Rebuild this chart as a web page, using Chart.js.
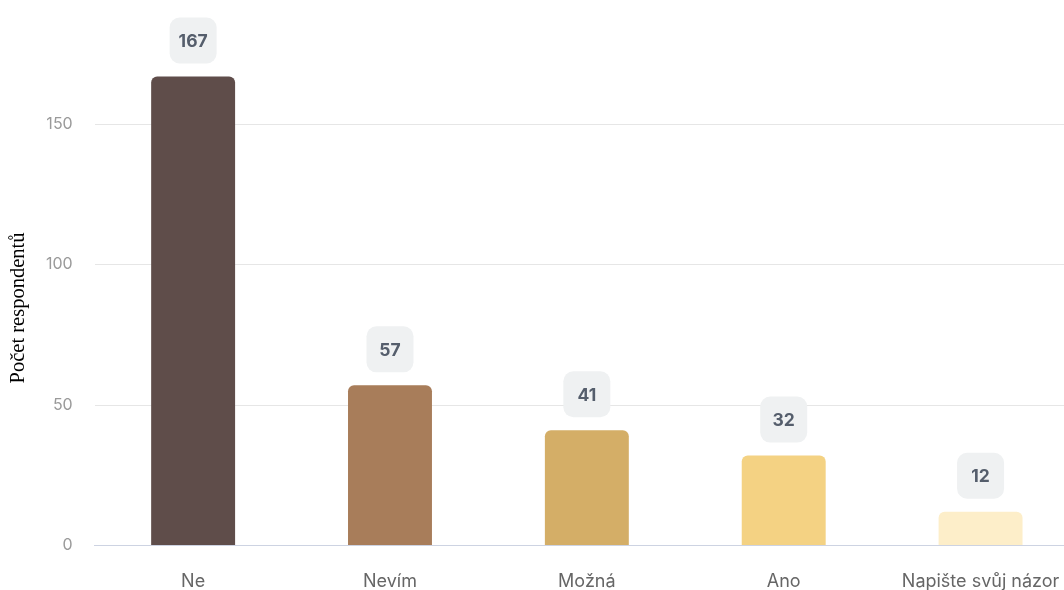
<!DOCTYPE html>
<html>
<head>
<meta charset="utf-8">
<script src="https://cdn.jsdelivr.net/npm/chart.js@4.4.1/dist/chart.umd.min.js"></script>
<style>
  html, body { margin: 0; padding: 0; background: #fff; overflow: hidden; }
  #wrap { position: relative; width: 1090px; height: 617px; }
</style>
</head>
<body>
<div id="wrap"><canvas id="myChart"></canvas></div>
<script>
var categories = ['Ne', 'Nevím', 'Možná', 'Ano', 'Napište svůj názor'];
var counts = [167, 57, 41, 32, 12];
var barColors = ['#5f4d4a', '#a87d5a', '#d4ae67', '#f4d283', '#fdeec9'];
var yTicks = [0, 50, 100, 150];
var yTitle = 'Počet respondentů';

// value boxes above each bar
var valueBoxes = {
  id: 'valueBoxes',
  afterDatasetsDraw: function(chart) {
    var ctx = chart.ctx;
    var meta = chart.getDatasetMeta(0);
    ctx.save();
    ctx.font = 'bold 17.5px Inter, Roboto, sans-serif';
    ctx.textAlign = 'center';
    ctx.textBaseline = 'middle';
    meta.data.forEach(function(bar, i) {
      var w = 47, h = 46;
      var cx = bar.x, cy = bar.y - 36;
      ctx.fillStyle = '#eff1f2';
      ctx.beginPath();
      ctx.roundRect(cx - w / 2, cy - h / 2, w, h, 10);
      ctx.fill();
      ctx.fillStyle = '#555e6c';
      ctx.fillText(counts[i], cx, cy + 1);
    });
    ctx.restore();
  }
};

// y axis title, drawn by hand so it sits lower than the scale would put it
var sideTitle = {
  id: 'sideTitle',
  afterDraw: function(chart) {
    var ctx = chart.ctx;
    ctx.save();
    ctx.translate(19, 308);
    ctx.rotate(-Math.PI / 2);
    ctx.font = '20.5px "Liberation Serif", "Times New Roman", serif';
    ctx.fillStyle = '#000';
    ctx.textAlign = 'center';
    ctx.textBaseline = 'middle';
    ctx.fillText(yTitle, 0, 0);
    ctx.restore();
  }
};

var ctx = document.getElementById('myChart').getContext('2d');
var barChart = new Chart(ctx, {
  type: 'bar',
  data: {
    labels: categories,
    datasets: [{
      data: counts,
      backgroundColor: barColors,
      borderRadius: 6,
      borderSkipped: 'bottom',
      barPercentage: 0.533,
      categoryPercentage: 0.8
    }]
  },
  options: {
    responsive: true,
    maintainAspectRatio: false,
    animation: false,
    layout: { padding: { top: 10, right: 11, bottom: 0, left: 24 } },
    plugins: {
      legend: { display: false },
      tooltip: { enabled: false }
    },
    scales: {
      x: {
        grid: { display: false, drawTicks: false },
        border: { color: '#cdd3e2' },
        ticks: {
          color: '#666',
          padding: 25,
          font: { family: 'Inter, Roboto, sans-serif', size: 18 }
        }
      },
      y: {
        min: 0,
        max: 183,
        afterBuildTicks: function(axis) {
          axis.ticks = yTicks.map(function(v) { return { value: v }; });
        },
        grid: { color: '#e6e6e6', drawTicks: false },
        border: { display: false },
        ticks: {
          color: '#9a9a9a',
          padding: 22,
          font: { family: 'Inter, Roboto, sans-serif', size: 16 }
        }
      }
    }
  },
  plugins: [valueBoxes, sideTitle]
});
</script>
</body>
</html>
